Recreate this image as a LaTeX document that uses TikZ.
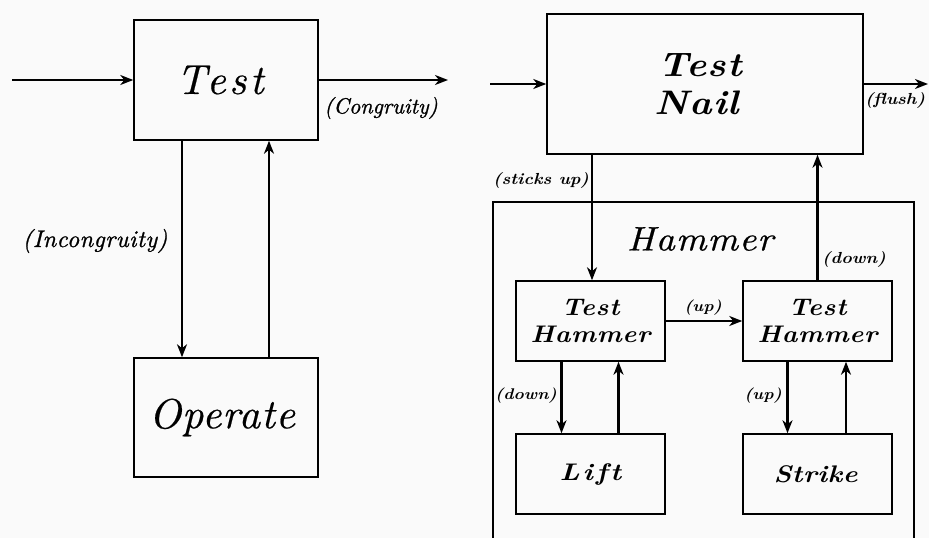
\documentclass[tikz,border=0pt]{standalone}
\usepackage{fontspec}
\setmainfont{lmroman10-regular}[
  Extension=.otf,
  ItalicFont=lmroman10-italic,
  BoldFont=lmroman10-bold,
  BoldItalicFont=lmroman10-bolditalic]
\usetikzlibrary{arrows.meta}
\begin{document}
\begin{tikzpicture}[x=1pt,y=-1pt,
  box/.style={draw, line width=1.5pt, inner sep=0pt, align=center},
  flow/.style={line width=2.3pt, -{Stealth[length=13pt,width=10pt,inset=4pt]}},
  bigtxt/.style={font=\fontsize{42}{46}\selectfont\itshape\addfontfeatures{FakeBold=0.4,LetterSpace=2}},
  bigwide/.style={font=\fontsize{42}{46}\selectfont\itshape\addfontfeatures{FakeBold=0.4,LetterSpace=8}},
  smalltxt/.style={font=\fontsize{22}{26}\selectfont\itshape\addfontfeatures{FakeBold=1}},
  nailtxt/.style={font=\fontsize{34}{38}\selectfont\bfseries\itshape\addfontfeatures{FakeStretch=1.12,LetterSpace=3}},
  hamtxt/.style={font=\fontsize{34}{38}\selectfont\itshape\addfontfeatures{FakeBold=0.6,FakeStretch=1.1,LetterSpace=3}},
  subtxt/.style={font=\fontsize{24}{27}\selectfont\bfseries\itshape\addfontfeatures{FakeStretch=1.1,LetterSpace=3}},
  liftxt/.style={font=\fontsize{24}{27}\selectfont\bfseries\itshape\addfontfeatures{FakeStretch=1.2,LetterSpace=12}},
  striketxt/.style={font=\fontsize{24}{27}\selectfont\bfseries\itshape\addfontfeatures{FakeStretch=1.15,LetterSpace=2}},
  tagbig/.style={font=\fontsize{16}{18}\selectfont\bfseries\itshape\addfontfeatures{FakeStretch=1.12}},
  tagsmall/.style={font=\fontsize{15.5}{17}\selectfont\bfseries\itshape\addfontfeatures{FakeStretch=1.12}},
]
\fill[gray!4] (0,0) rectangle (929,538);
\clip (0,0) rectangle (929,538);
\useasboundingbox (0,0) rectangle (929,538);

% ---------- left: the TOTE unit ----------
\node[box, bigwide, minimum width=184pt, minimum height=120pt] (test) at (226,80) {\kern-12pt Test};
\node[box, bigtxt, minimum width=184pt, minimum height=119pt] (operate) at (226,417.5) {\kern-8pt Operate};
\coordinate (lin) at (12,80);
\coordinate (lout) at (448,80);
\draw[flow] (lin) -- (test.west);
\draw[flow] (test.east) -- (lout);
\draw[flow] ([xshift=-44pt]test.south) -- ([xshift=-44pt]operate.north);
\draw[flow] ([xshift=43pt]operate.north) -- ([xshift=43pt]test.south);
\node[smalltxt] (congr) at (381,108) {(Congruity)};
\node[font=\fontsize{24}{28}\selectfont\itshape\addfontfeatures{FakeBold=1,LetterSpace=2}] (incongr) at (95,241) {(Incongruity)};

% ---------- right: hammering a nail ----------
\node[box, nailtxt, minimum width=316pt, minimum height=140pt] (nail) at (705,84) {\kern-10pt Test\\\kern-16pt Nail};
\node[box, minimum width=421pt, minimum height=358pt] (hammer) at (703.5,381) {};
\node[hamtxt] (hamlabel) at (700,239) {Hammer};
\node[box, subtxt, minimum width=149pt, minimum height=80pt] (th1) at (590.5,321) {Test\\Hammer};
\node[box, subtxt, minimum width=149pt, minimum height=80pt] (th2) at (817.5,321) {Test\\Hammer};
\node[box, liftxt, minimum width=149pt, minimum height=80pt] (lift) at (590.5,474) {Lift};
\node[box, striketxt, minimum width=149pt, minimum height=80pt] (strike) at (817.5,474) {\kern-4pt Strike};

\coordinate (rin) at (490,84);
\coordinate (rout) at (928,84);
\draw[flow] (rin) -- (nail.west);
\draw[flow] (nail.east) -- (rout);
\draw[flow] ([xshift=1.5pt]nail.south -| th1.north) -- ([xshift=1.5pt]th1.north);
\draw[flow] (th2.north) -- (th2.north |- nail.south);
\draw[flow] (th1.east) -- (th2.west);
\draw[flow] ([xshift=-29pt]th1.south) -- ([xshift=-29pt]lift.north);
\draw[flow] ([xshift=28pt]lift.north) -- ([xshift=28pt]th1.south);
\draw[flow] ([xshift=-30pt]th2.south) -- ([xshift=-30pt]strike.north);
\draw[flow] ([xshift=28.5pt]strike.north) -- ([xshift=28.5pt]th2.south);

\node[tagbig] (flush) at (895,100) {(flush)};
\node[tagbig] (sticks) at (541,180) {(sticks up)};
\node[tagbig] (downtop) at (854,259) {(down)};
\node[tagsmall] (uptop) at (703,308) {(up)};
\node[tagsmall] (downlow) at (526,396) {(down)};
\node[tagsmall] (uplow) at (763,396) {(up)};
\end{tikzpicture}
\end{document}
